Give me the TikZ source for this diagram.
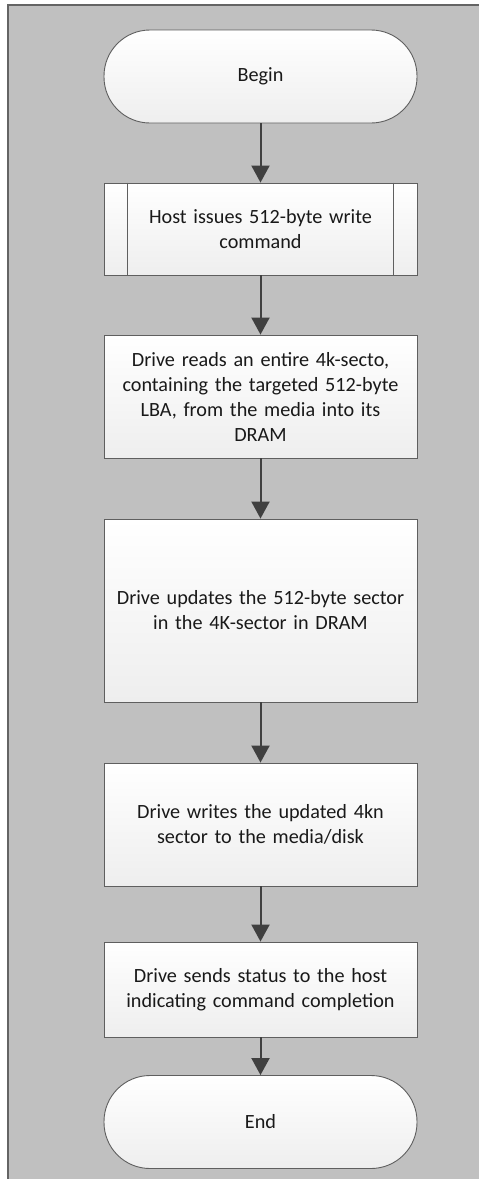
\documentclass[tikz,border=0pt]{standalone}
\usepackage{fontspec}
\setmainfont{Carlito}
\usetikzlibrary{arrows.meta}
\definecolor{panelgray}{RGB}{192,192,192}
\definecolor{framegray}{RGB}{100,100,100}
\definecolor{linegray}{RGB}{95,95,95}
\definecolor{arrowgray}{RGB}{64,64,64}
\definecolor{boxbottom}{RGB}{238,238,238}
\tikzset{
  box/.style={draw=linegray, line width=0.9pt, top color=white, bottom color=boxbottom,
    minimum width=313pt, inner sep=0pt, text width=310pt, align=center,
    font=\fontsize{20.2}{25}\selectfont, text=black!90},
  term/.style={box, rounded corners=46pt, minimum height=93pt},
  flow/.style={draw=arrowgray, line width=2pt, -{Triangle[width=18pt,length=17pt]}}
}
\begin{document}
\begin{tikzpicture}[x=1pt,y=-1pt]
    \useasboundingbox (0,0) rectangle (479,1179);
    \fill[panelgray] (8,5) rectangle (479,1179);
    \draw[framegray, line width=1.2pt] (8,1179) -- (8,5) -- (479,5);
    \node[term] (begin) at (260.5,76.5) {Begin};
    \node[box, minimum height=92pt] (host) at (260.5,229) {Host issues 512-byte write\\command};
    \draw[linegray, line width=0.9pt] ([xshift=24pt]host.north west) -- ([xshift=24pt]host.south west);
    \draw[linegray, line width=0.9pt] ([xshift=-24pt]host.north east) -- ([xshift=-24pt]host.south east);
    \node[box, minimum height=123pt] (read) at (260.5,396.5) {Drive reads an entire 4k-secto,\\containing the targeted 512-byte\\LBA, from the media into its\\DRAM};
    \node[box, minimum height=183pt] (update) at (260.5,610.5) {Drive updates the 512-byte sector\\in the 4K-sector in DRAM};
    \node[box, minimum height=123pt] (write) at (260.5,824.5) {Drive writes the updated 4kn\\sector to the media/disk};
    \node[box, minimum height=95pt] (status) at (260.5,989.5) {Drive sends status to the host\\indicating command completion};
    \node[term] (end) at (260.5,1122) {End};
    \foreach \a/\b in {begin/host, host/read, read/update, update/write, write/status, status/end}
        \draw[flow] (\a) -- (\b);
\end{tikzpicture}
\end{document}
